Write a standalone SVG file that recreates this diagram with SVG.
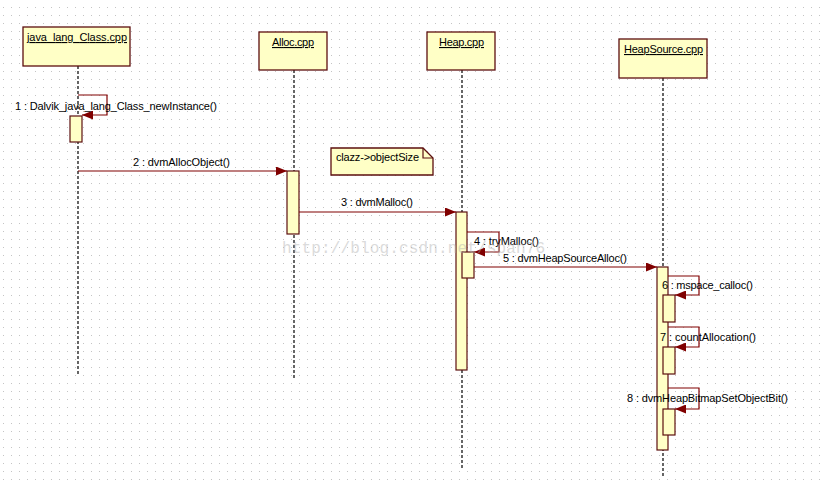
<svg xmlns="http://www.w3.org/2000/svg" width="824" height="485" viewBox="0 0 824 485">
<style>
  .box { fill: #ffffc6; stroke: #5c0f0f; stroke-width: 1.3; }
  .act { fill: #ffffc6; stroke: #5c0f0f; stroke-width: 1.2; }
  .life { stroke: #000; stroke-width: 1.2; stroke-dasharray: 3 2; fill: none; }
  .msg { stroke: #800000; stroke-width: 1.2; fill: none; marker-end: url(#arr); }
  .lbl { font-family: "Liberation Sans", Arial, sans-serif; font-size: 11px; fill: #000; }
  .hdr { font-family: "Liberation Sans", Arial, sans-serif; font-size: 11px; fill: #000; text-decoration: underline; }
  .wm { font-family: "Liberation Mono", "DejaVu Sans Mono", monospace; font-size: 16px; fill: #b0b0b0; opacity: 0.45; }
</style>
<defs>
  <pattern id="grid" x="0" y="0" width="8" height="8" patternUnits="userSpaceOnUse">
    <rect x="3" y="7" width="1" height="1" fill="#c4c4c4"/>
  </pattern>
  <marker id="arr" markerWidth="11" markerHeight="9" refX="11" refY="4.5" orient="auto" markerUnits="userSpaceOnUse">
    <path d="M0,0 L11,4.5 L0,9 Z" fill="#800000"/>
  </marker>
</defs>
<rect x="0" y="0" width="824" height="485" fill="#ffffff"/>
<rect x="0" y="0" width="824" height="480" fill="url(#grid)"/>

<g id="lifelines">
  <line class="life" x1="78" y1="66" x2="78" y2="376"/>
  <line class="life" x1="294" y1="70" x2="294" y2="380"/>
  <line class="life" x1="462" y1="70" x2="462" y2="470"/>
  <line class="life" x1="663" y1="78" x2="663" y2="478"/>
</g>

<g id="node-java">
  <rect class="box" x="23" y="27" width="107" height="39"/>
  <text class="hdr" x="27" y="41" textLength="100">java_lang_Class.cpp</text>
  <rect class="act" x="70" y="116" width="12" height="26"/>
</g>
<g id="node-alloc">
  <rect class="box" x="259" y="32" width="68" height="38"/>
  <text class="hdr" x="272" y="46" textLength="42">Alloc.cpp</text>
  <rect class="act" x="287" y="171" width="12" height="63"/>
</g>
<g id="node-heap">
  <rect class="box" x="427" y="32" width="68" height="38"/>
  <text class="hdr" x="439" y="46" textLength="45">Heap.cpp</text>
  <rect class="act" x="456" y="212" width="11" height="158"/>
  <rect class="act" x="462" y="252" width="12" height="26"/>
</g>
<g id="node-heapsource">
  <rect class="box" x="619" y="39" width="88" height="39"/>
  <text class="hdr" x="624" y="53" textLength="79">HeapSource.cpp</text>
  <rect class="act" x="657" y="267" width="11" height="183"/>
  <rect class="act" x="663" y="295" width="12" height="27"/>
  <rect class="act" x="663" y="347" width="12" height="27"/>
  <rect class="act" x="663" y="409" width="12" height="26"/>
</g>
<g id="note">
  <path class="box" d="M331,148 H423 L433,158 V175 H331 Z"/>
  <path d="M423,148 V158 H433" fill="none" stroke="#5c0f0f" stroke-width="1.2"/>
  <text class="lbl" x="336" y="161" textLength="83">clazz-&gt;objectSize</text>
</g>

<g id="connectors">
  <path class="msg" d="M78,95 H107 V115 H82"/>
  <path class="msg" d="M78,171 H287"/>
  <path class="msg" d="M299,212 H456"/>
  <path class="msg" d="M467,232 H499 V252 H474"/>
  <path class="msg" d="M474,267 H657"/>
  <path class="msg" d="M668,276 H699 V295 H675"/>
  <path class="msg" d="M668,327 H699 V347 H675"/>
  <path class="msg" d="M668,388 H699 V409 H675"/>
</g>

<g id="labels">
  <text class="lbl" x="15" y="110" textLength="202">1 : Dalvik_java_lang_Class_newInstance()</text>
  <text class="lbl" x="133" y="166" textLength="97">2 : dvmAllocObject()</text>
  <text class="lbl" x="341" y="206" textLength="72">3 : dvmMalloc()</text>
  <text class="lbl" x="474" y="245" textLength="65">4 : tryMalloc()</text>
  <text class="lbl" x="503" y="262" textLength="124">5 : dvmHeapSourceAlloc()</text>
  <text class="lbl" x="662" y="289" textLength="91">6 : mspace_calloc()</text>
  <text class="lbl" x="660" y="341" textLength="96">7 : countAllocation()</text>
  <text class="lbl" x="627" y="402" textLength="161">8 : dvmHeapBitmapSetObjectBit()</text>
</g>

<text class="wm" x="282" y="253" textLength="263">http://blog.csdn.net/span76</text>
</svg>
